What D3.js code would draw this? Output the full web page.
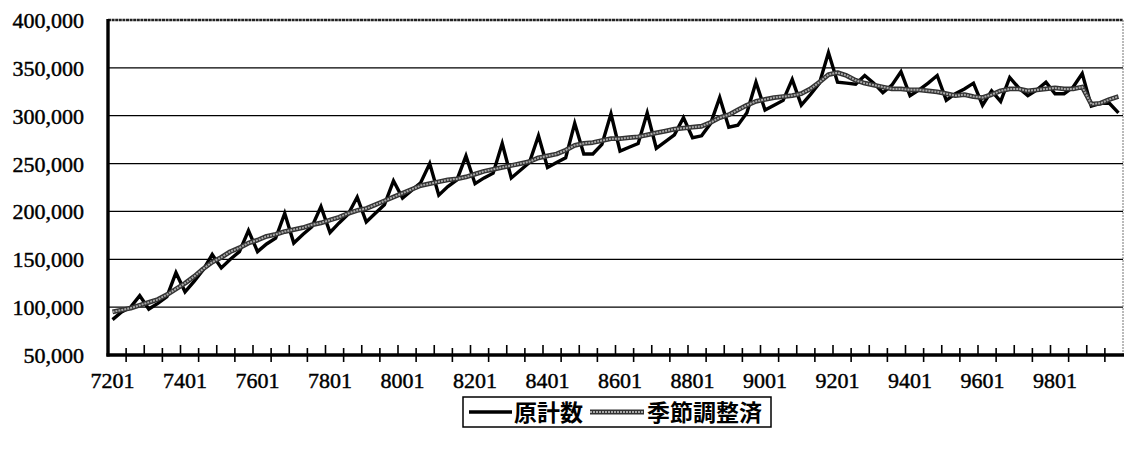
<!DOCTYPE html>
<html lang="ja">
<head>
<meta charset="utf-8">
<script src="https://cdn.jsdelivr.net/npm/d3@7/dist/d3.min.js"></script>
<style>
  html, body { margin: 0; padding: 0; background: #fff; }
  svg { display: block; }
  .num { font-family: "Liberation Serif", "Times New Roman", serif; font-size: 22px; fill: #000; stroke: #000; stroke-width: 0.45px; }
  .jp { font-family: "Noto Sans CJK JP", sans-serif; font-size: 23px; font-weight: 700; fill: #000; }
</style>
</head>
<body>
<svg id="chart" width="1125" height="451"></svg>
<script>
// Quarterly series, 1972 Q1 – 1999 Q4
const startYear = 1972;
const endYear = 1999;

// 原計数 (raw counts)
const rawValues = [
  87000, 95000, 100000, 112000,
  98000, 104000, 111000, 136000,
  116000, 127000, 139000, 155000,
  141000, 150000, 158000, 180000,
  158000, 166000, 172000, 198000,
  167000, 176000, 184000, 205000,
  178000, 188000, 197000, 215000,
  189000, 198000, 207000, 232000,
  214000, 222000, 230000, 250000,
  217000, 226000, 233000, 258000,
  229000, 235000, 240000, 271000,
  235000, 243000, 251000, 279000,
  246000, 251000, 256000, 292000,
  260000, 260000, 270000, 302000,
  263000, 267000, 271000, 303000,
  266000, 273000, 280000, 298000,
  277000, 279000, 292000, 319000,
  288000, 290000, 303000, 335000,
  306000, 311000, 316000, 338000,
  311000, 322000, 334000, 366000,
  335000, 334000, 333000, 342000,
  334000, 324000, 332000, 346000,
  321000, 327000, 334000, 342000,
  316000, 323000, 328000, 334000,
  311000, 326000, 315000, 340000,
  329000, 321000, 327000, 335000,
  323000, 323000, 330000, 344000,
  310000, 313000, 313000, 303000
];

// 季節調整済 (seasonally adjusted)
const adjustedValues = [
  95000, 97000, 99000, 102000,
  105000, 108000, 113000, 119000,
  125000, 132000, 140000, 147000,
  152000, 158000, 162000, 167000,
  170000, 174000, 176000, 179000,
  181000, 183000, 186000, 188000,
  191000, 194000, 198000, 201000,
  203000, 207000, 211000, 215000,
  219000, 223000, 227000, 229000,
  231000, 233000, 234000, 236000,
  239000, 242000, 244000, 246000,
  248000, 250000, 252000, 256000,
  258000, 260000, 264000, 269000,
  271000, 272000, 274000, 276000,
  276000, 277000, 278000, 280000,
  282000, 284000, 286000, 287000,
  288000, 289000, 293000, 298000,
  301000, 306000, 311000, 315000,
  317000, 319000, 320000, 321000,
  323000, 328000, 335000, 343000,
  345000, 342000, 337000, 334000,
  332000, 330000, 328000, 328000,
  327000, 327000, 326000, 325000,
  323000, 321000, 322000, 320000,
  319000, 322000, 326000, 328000,
  328000, 326000, 327000, 328000,
  329000, 328000, 328000, 330000,
  312000, 313000, 317000, 320000
];

const tickLabels = ["7201", "7401", "7601", "7801", "8001", "8201", "8401",
                    "8601", "8801", "9001", "9201", "9401", "9601", "9801"];
const yTickValues = [50000, 100000, 150000, 200000, 250000, 300000, 350000, 400000];
const seriesNames = ["原計数", "季節調整済"];

// Category codes "YYQQ" (e.g. 7201 = 1972, 1st quarter)
const categories = [];
for (let yr = startYear; yr <= endYear; yr++) {
  for (let q = 1; q <= 4; q++) {
    categories.push(String(yr % 100).padStart(2, "0") + String(q).padStart(2, "0"));
  }
}

const svg = d3.select("#chart");
const plot = { left: 108, right: 1123, top: 20, bottom: 355 };

const x = d3.scaleBand().domain(categories).range([plot.left, plot.right]).padding(0);
const y = d3.scaleLinear().domain([50000, 400000]).range([plot.bottom, plot.top]);
const cx = d => x(d) + x.bandwidth() / 2;

// Horizontal gridlines
svg.append("g")
  .selectAll("line")
  .data(yTickValues.filter(v => v > 50000 && v < 400000))
  .join("line")
  .attr("x1", plot.left).attr("x2", plot.right)
  .attr("y1", d => y(d)).attr("y2", d => y(d))
  .attr("stroke", "#000").attr("stroke-width", 1.2);

// Plot-area border: top and right edges
svg.append("line")
  .attr("x1", plot.left).attr("x2", plot.right)
  .attr("y1", y(400000)).attr("y2", y(400000))
  .attr("stroke", "#222").attr("stroke-width", 2.4)
  .attr("stroke-dasharray", "3,0.6");
svg.append("line")
  .attr("x1", plot.right).attr("x2", plot.right)
  .attr("y1", plot.top).attr("y2", plot.bottom)
  .attr("stroke", "#777").attr("stroke-width", 1)
  .attr("stroke-dasharray", "2,1");

// Y axis labels
const yAxis = d3.axisLeft(y).tickValues(yTickValues).tickFormat(d3.format(",")).tickSize(0).tickPadding(24);
const gy = svg.append("g").attr("transform", `translate(${plot.left},0)`).call(yAxis);
gy.select(".domain").remove();
gy.selectAll("text").attr("class", "num").attr("font-family", null).attr("font-size", null).attr("dy", "0.34em");

// X axis labels (every eighth quarter, centred on its category)
const labelCats = categories.filter(c => tickLabels.includes(c));
const xAxis = d3.axisBottom(x).tickValues(labelCats).tickSize(0).tickPadding(17);
const gx = svg.append("g").attr("transform", `translate(0,${plot.bottom})`).call(xAxis);
gx.select(".domain").remove();
gx.selectAll("text").attr("class", "num").attr("font-family", null).attr("font-size", null);

// Tick marks on the category axis, every second boundary
const boundaries = d3.range(2, categories.length, 2);
svg.append("g")
  .selectAll("line")
  .data(boundaries)
  .join("line")
  .attr("x1", b => x(categories[b])).attr("x2", b => x(categories[b]))
  .attr("y1", b => b % 4 === 2 ? plot.bottom - 7 : plot.bottom - 10)
  .attr("y2", b => b % 4 === 2 ? plot.bottom + 7 : plot.bottom)
  .attr("stroke", "#000").attr("stroke-width", 1.6);

// Series lines
const line = d3.line().x((d, i) => cx(categories[i])).y(d => y(d));

svg.append("path").datum(rawValues)
  .attr("d", line).attr("fill", "none")
  .attr("stroke", "#000").attr("stroke-width", 3.4)
  .attr("stroke-linejoin", "miter").attr("stroke-miterlimit", 10);

svg.append("path").datum(adjustedValues)
  .attr("d", line).attr("fill", "none")
  .attr("stroke", "#333").attr("stroke-width", 4.8)
  .attr("stroke-linejoin", "round");
svg.append("path").datum(adjustedValues)
  .attr("d", line).attr("fill", "none")
  .attr("stroke", "#a8a8a8").attr("stroke-width", 2)
  .attr("stroke-dasharray", "2,1")
  .attr("stroke-linejoin", "round");

// Axis lines (drawn last so they sit on top)
svg.append("line")
  .attr("x1", plot.left).attr("x2", plot.left)
  .attr("y1", plot.top - 1).attr("y2", plot.bottom + 1.5)
  .attr("stroke", "#000").attr("stroke-width", 3.4);
svg.append("line")
  .attr("x1", plot.left - 1.5).attr("x2", plot.right + 1)
  .attr("y1", plot.bottom).attr("y2", plot.bottom)
  .attr("stroke", "#000").attr("stroke-width", 3.4);

// Legend
const legend = svg.append("g").attr("transform", "translate(463,397)");
legend.append("rect")
  .attr("x", 0).attr("y", 0).attr("width", 308).attr("height", 30)
  .attr("fill", "#fff").attr("stroke", "#000").attr("stroke-width", 1.5);
legend.append("line")
  .attr("x1", 6).attr("x2", 49).attr("y1", 15).attr("y2", 15)
  .attr("stroke", "#000").attr("stroke-width", 3.4);
legend.append("text").attr("class", "jp").attr("x", 51).attr("y", 23.5).text(seriesNames[0]);
legend.append("line")
  .attr("x1", 127).attr("x2", 181).attr("y1", 15).attr("y2", 15)
  .attr("stroke", "#333").attr("stroke-width", 4.8);
legend.append("line")
  .attr("x1", 127).attr("x2", 181).attr("y1", 15).attr("y2", 15)
  .attr("stroke", "#a8a8a8").attr("stroke-width", 2).attr("stroke-dasharray", "2,1");
legend.append("text").attr("class", "jp").attr("x", 184).attr("y", 23.5).text(seriesNames[1]);
</script>
</body>
</html>
